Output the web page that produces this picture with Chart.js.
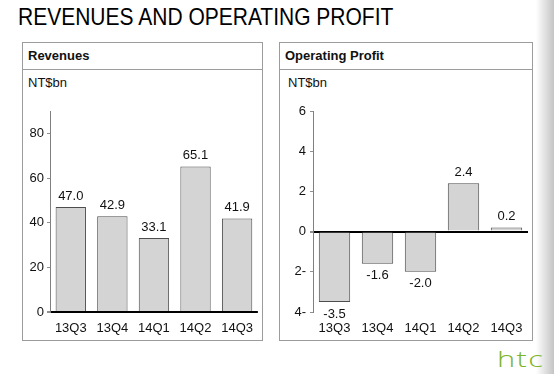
<!DOCTYPE html>
<html>
<head>
<meta charset="utf-8">
<script src="https://cdn.jsdelivr.net/npm/chart.js@4"></script>
<style>
  html, body { margin: 0; padding: 0; background: #fff; }
  #page { position: relative; width: 554px; height: 374px; overflow: hidden; background: #fff; font-family: "Liberation Sans", Arial, sans-serif; color: #111; }
  .title { position: absolute; left: 18px; top: 3px; font-size: 24px; white-space: nowrap; transform: scaleX(0.875); transform-origin: left top; color: #000; }
  .box { position: absolute; top: 42px; height: 299px; box-sizing: border-box; border: 1px solid #9c9c9c; }
  .sep { position: absolute; left: 0; right: 0; top: 26px; height: 0; border-top: 1px solid #9c9c9c; }
  .head { position: absolute; font-size: 13px; font-weight: bold; white-space: nowrap; }
  .unit { position: absolute; font-size: 13px; white-space: nowrap; }
  canvas { position: absolute; }
  .shade { position: absolute; left: 536px; top: 0; width: 18px; height: 374px; background: linear-gradient(to right, rgba(220,220,220,0), #c4c4c4); }
  .logo { position: absolute; left: 497px; top: 343px; font-family: "Open Sans", "DejaVu Sans", sans-serif; font-weight: 300; font-size: 22px; color: #7db52a; letter-spacing: 1px; transform: scaleX(1.4); transform-origin: left top; }
</style>
</head>
<body>
<div id="page">
  <div class="title">REVENUES AND OPERATING PROFIT</div>

  <div class="box" style="left:22px; width:241px;"><div class="sep"></div></div>
  <div class="head" style="left:28px; top:48px;">Revenues</div>
  <div class="unit" style="left:28px; top:75px;">NT$bn</div>

  <div class="box" style="left:279px; width:254px;"><div class="sep"></div></div>
  <div class="head" style="left:285px; top:48px;">Operating Profit</div>
  <div class="unit" style="left:288px; top:75px;">NT$bn</div>

  <canvas id="rev" width="240" height="245" style="left:22px; top:95px; width:240px; height:245px;"></canvas>
  <canvas id="op" width="254" height="245" style="left:279px; top:95px; width:254px; height:245px;"></canvas>

  <div class="shade"></div>
  <div class="logo">htc</div>
</div>

<script>
// ---- data ----
const quarters = ["13Q3", "13Q4", "14Q1", "14Q2", "14Q3"];
const revenues = [47.0, 42.9, 33.1, 65.1, 41.9];
const operatingProfit = [-3.5, -1.6, -2.0, 2.4, 0.2];
const revenueTicks = [0, 20, 40, 60, 80];
const profitTicks = [-4, -2, 0, 2, 4, 6];

const FONT = "'Liberation Sans', Arial, sans-serif";

const valueLabels = {
  id: 'valueLabels',
  afterDatasetsDraw(chart) {
    const ctx = chart.ctx;
    const meta = chart.getDatasetMeta(0);
    const data = chart.data.datasets[0].data;
    ctx.save();
    ctx.font = "13px " + FONT;
    ctx.fillStyle = "#111";
    ctx.textAlign = "center";
    ctx.textBaseline = "middle";
    meta.data.forEach((bar, i) => {
      const v = data[i];
      const y = v >= 0 ? bar.y - 11 : bar.y + 12;
      ctx.fillText(v.toFixed(1), bar.x, y);
    });
    ctx.restore();
  }
};

function makeChart(id, values, yMin, yMax, step, yWidth, padRight, tickPad, tickFmt) {
  return new Chart(document.getElementById(id), {
    type: 'bar',
    data: {
      labels: quarters,
      datasets: [{
        data: values,
        backgroundColor: '#d4d4d4',
        borderColor: '#4d4d4d',
        borderWidth: 1,
        barPercentage: 0.73,
        categoryPercentage: 1.0
      }]
    },
    options: {
      responsive: false,
      devicePixelRatio: 1,
      animation: false,
      layout: { padding: { top: 16, right: padRight, left: 0, bottom: 0 } },
      plugins: { legend: { display: false }, tooltip: { enabled: false } },
      scales: {
        x: {
          grid: { display: false, drawTicks: false },
          border: { display: false },
          ticks: { color: '#111', font: { family: FONT, size: 13 }, padding: 9, maxRotation: 0 },
          afterFit(s) { s.height = 28; }
        },
        y: {
          min: yMin, max: yMax,
          border: { display: true, color: '#808080', width: 1 },
          grid: {
            drawOnChartArea: true,
            drawTicks: true,
            tickLength: 3,
            tickColor: '#909090',
            color: c => (c.tick && c.tick.value === 0) ? '#000' : 'rgba(0,0,0,0)',
            lineWidth: c => (c.tick && c.tick.value === 0) ? 2 : 1
          },
          ticks: {
            stepSize: step,
            includeBounds: false,
            padding: tickPad,
            color: '#111',
            font: { family: FONT, size: 13 },
            callback: tickFmt
          },
          afterFit(s) { s.width = yWidth; }
        }
      }
    },
    plugins: [valueLabels]
  });
}

makeChart('rev', revenues, 0, 90, 20, 28, 0, 3,
  v => revenueTicks.includes(v) ? String(v) : '');
makeChart('op', operatingProfit, -4, 6, 2, 34, 5, 4,
  v => profitTicks.includes(v) ? (v < 0 ? String(-v) + '-' : String(v)) : '');
</script>
</body>
</html>
